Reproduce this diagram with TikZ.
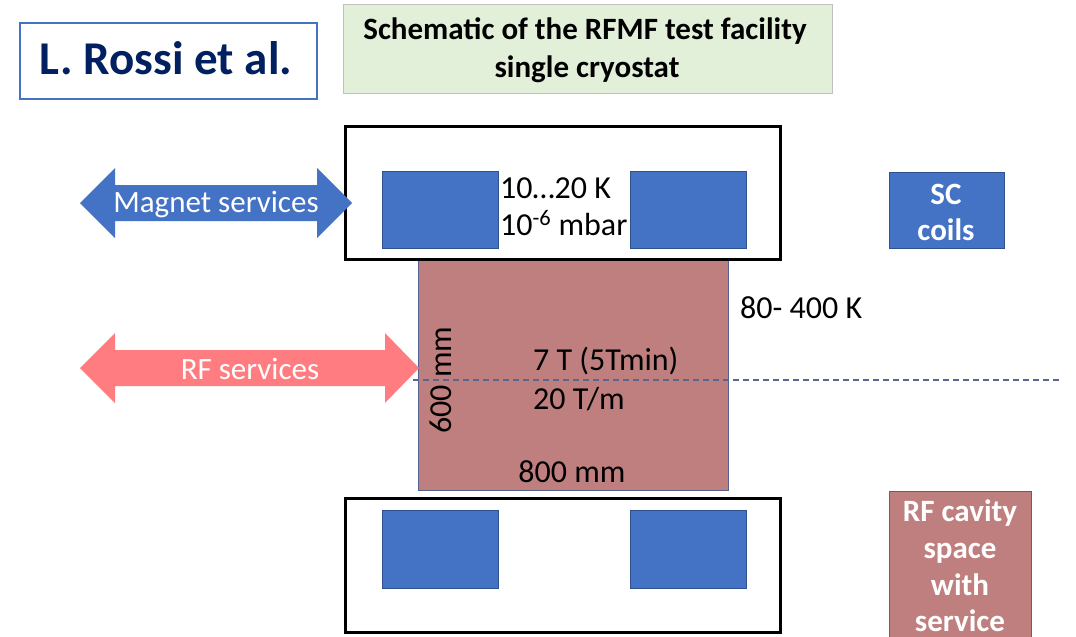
\documentclass[tikz,border=0pt]{standalone}
\usepackage{fontspec}
\setmainfont{Carlito}
\definecolor{cblue}{HTML}{4472C4}
\definecolor{cbluedk}{HTML}{2F528F}
\definecolor{cnavy}{HTML}{002060}
\definecolor{cgreen}{HTML}{E2F0D9}
\definecolor{cgray}{HTML}{C0C0C0}
\definecolor{crfbox}{HTML}{C07F7F}
\definecolor{crfedge}{HTML}{56618F}
\definecolor{csalmon}{HTML}{FF7C80}
\definecolor{cdash}{HTML}{5A6690}
\begin{document}
\begin{tikzpicture}[x=1pt,y=-1pt,
  txt/.style={inner sep=0pt,font=\fontsize{32}{38}\selectfont},
  wtxt/.style={txt,text=white,font=\fontsize{31}{37}\selectfont},
  btxt/.style={txt,text=white,anchor=base,font=\fontsize{31}{37}\selectfont\bfseries},
  coil/.style={fill=cblue,draw=cbluedk,line width=0.6pt},
  cryo/.style={draw=black,line width=3pt},
  rfbox/.style={fill=crfbox,draw=crfedge,line width=1pt}]
\useasboundingbox (0,0) rectangle (1076,637);
\fill[white] (0,0) rectangle (1076,637);
% header boxes
\node[draw=cblue,line width=2pt,minimum width=297pt,minimum height=76pt,anchor=north west,inner sep=0pt] (author) at (19,22) {};
\node[txt,text=cnavy,anchor=base,font=\fontsize{47}{54}\selectfont\bfseries] (authtxt) at (166,74) {L. Rossi et al.};
\node[fill=cgreen,draw=cgray,line width=0.8pt,minimum width=489pt,minimum height=89pt,anchor=north west,inner sep=0pt] (title) at (343,4) {};
\node[txt,anchor=base,font=\fontsize{31}{37}\selectfont\bfseries] (t1) at (585,39) {Schematic of the RFMF test facility};
\node[txt,anchor=base,font=\fontsize{31}{37}\selectfont\bfseries] (t2) at (587,77) {single cryostat};
% RF cavity region
\draw[rfbox] (418,259) rectangle (728,490);
% cryostats
\draw[cryo] (345,126) rectangle (780,259);
\draw[cryo] (345,498) rectangle (780,632);
% coils
\draw[coil] (382,171) rectangle (498,248);
\draw[coil] (630,171) rectangle (746,248);
\draw[coil] (382,510) rectangle (498,588);
\draw[coil] (630,510) rectangle (746,588);
% dashed axis
\coordinate (axL) at (413,380);
\coordinate (axR) at (1060,380);
\draw[cdash,line width=1.2pt,dash pattern=on 6pt off 4pt] (axL) -- (axR);
% texts in cryostat
\node[txt,anchor=base west] (temp) at (500,198) {10…20 K};
\node[txt,anchor=base west] (vac) at (500,235) {10\textsuperscript{-6} mbar};
\node[txt,anchor=base west] (t400) at (740,318) {80- 400 K};
\node[txt,anchor=base west] (field) at (533,370) {7 T (5Tmin)};
\node[txt,anchor=base west] (grad) at (533,409) {20 T/m};
\node[txt,anchor=base] (w800) at (572,482) {800 mm};
\node[txt,rotate=90] (h600) at (441,380) {600 mm};
% magnet services arrow
\fill[cblue] (80,203) -- (115,168) -- (115,185) -- (317,185) -- (317,168) -- (352,203)
  -- (317,238) -- (317,221) -- (115,221) -- (115,238) -- cycle;
\node[wtxt] (magsvc) at (216,204) {Magnet services};
% RF services arrow
\fill[csalmon] (80,368) -- (115,333) -- (115,350) -- (385,350) -- (385,333) -- (419,368)
  -- (385,403) -- (385,386) -- (115,386) -- (115,403) -- cycle;
\node[wtxt] (rfsvc) at (250,369) {RF services};
% legend
\node[coil,minimum width=115pt,minimum height=76pt,anchor=north west,inner sep=0pt] (sc) at (889,172) {};
\node[btxt] (sc1) at (946,204) {SC};
\node[btxt] (sc2) at (946,240) {coils};
\begin{scope}
\clip (0,0) rectangle (1076,637);
\node[rfbox,minimum width=142pt,minimum height=160pt,anchor=north west,inner sep=0pt] (rfleg) at (889,491) {};
\node[btxt] (r1) at (960,521) {RF cavity};
\node[btxt] (r2) at (960,558) {space};
\node[btxt] (r3) at (960,595) {with};
\node[btxt] (r4) at (960,631) {service};
\end{scope}
\end{tikzpicture}
\end{document}
